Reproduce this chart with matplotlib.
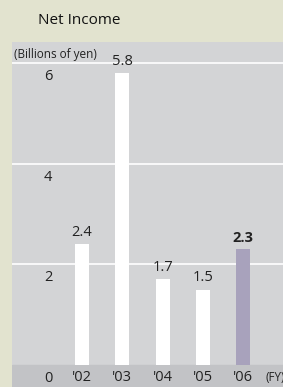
import matplotlib
matplotlib.use('Agg')
import matplotlib.pyplot as plt
import numpy as np

years = ["'02", "'03", "'04", "'05", "'06"]
income = [2.4, 5.8, 1.7, 1.5, 2.3]
yticks = [0, 2, 4, 6]

plt.rcParams['font.family'] = ['Open Sans', 'DejaVu Sans']

fig = plt.figure(figsize=(2.83, 3.87), dpi=100)
fig.patch.set_facecolor('#e2e3cf')
ax = fig.add_axes([12 / 283, 0, 1 - 12 / 283, (387 - 42) / 387])
ax.set_facecolor('#d3d4d6')

x = np.arange(len(years))
ax.set_xlim(-1.74, 4.99)
ax.set_ylim(-0.437, 6.42)

# darker band under the zero line
ax.axhspan(-0.437, 0, color='#c2c3c6', zorder=0)
for t in yticks[1:]:
    ax.axhline(t, color='white', lw=1.2, zorder=1)

colors = ['white'] * (len(years) - 1) + ['#a8a2bc']
ax.bar(x, income, width=0.35, color=colors, zorder=2)

for i, v in enumerate(income):
    last = i == len(income) - 1
    ax.annotate('%.1f' % v, (x[i], v), xytext=(0, 3), textcoords='offset points',
                ha='center', va='bottom', fontsize=10.5, color='#222222',
                fontweight='bold' if last else 'normal')

for t in yticks:
    ax.text(-0.845, t - 0.12, str(t), ha='center', va='top', fontsize=10.5, color='#222222')

for i, yr in enumerate(years):
    ax.text(x[i], -0.24, yr, ha='center', va='center', fontsize=10.5, color='#222222')
ax.text(4.55, -0.24, '(FY)', ha='left', va='center', fontsize=8.5, color='#222222')

ax.text(-1.69, 6.17, '(Billions of yen)', ha='left', va='center', fontsize=8.5, color='#222222')

fig.text(38 / 283, 1 - 20 / 387, 'Net Income', ha='left', va='center', fontsize=11, color='#111111')

ax.set_xticks([])
ax.set_yticks([])
for s in ax.spines.values():
    s.set_visible(False)

fig.savefig('out.png', dpi=100, facecolor=fig.get_facecolor())
